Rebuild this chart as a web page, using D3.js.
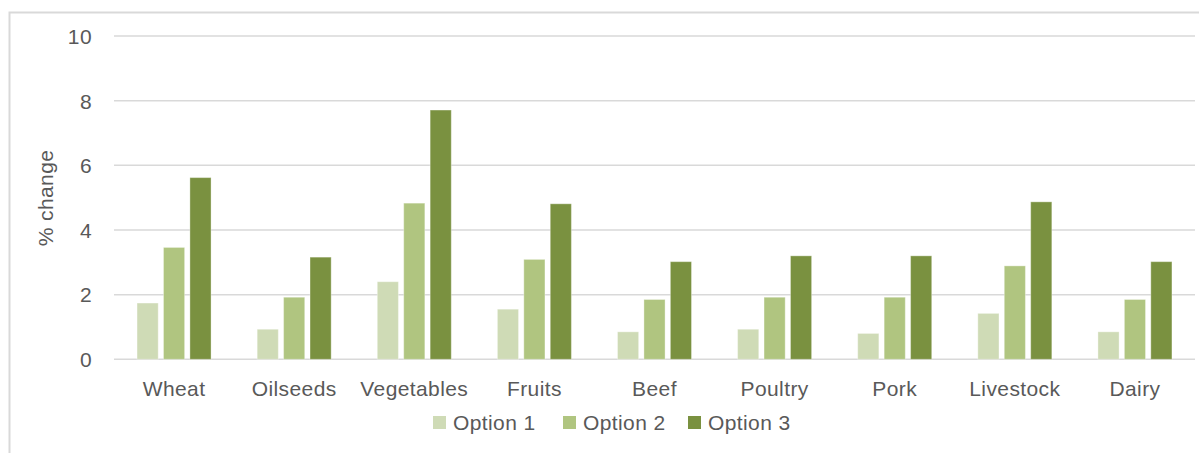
<!DOCTYPE html>
<html>
<head>
<meta charset="utf-8">
<script src="https://cdn.jsdelivr.net/npm/d3@7"></script>
<style>
  html, body { margin: 0; padding: 0; background: #fff; }
  svg { display: block; }
  text { font-family: "Liberation Sans", Arial, sans-serif; fill: #595959; letter-spacing: 0.4px; }
</style>
</head>
<body>
<svg id="chart" width="1199" height="453"></svg>
<script>
const categories = ["Wheat", "Oilseeds", "Vegetables", "Fruits", "Beef", "Poultry", "Pork", "Livestock", "Dairy"];
const seriesNames = ["Option 1", "Option 2", "Option 3"];
const option1 = [1.74, 0.93, 2.40, 1.55, 0.85, 0.93, 0.80, 1.42, 0.85];
const option2 = [3.46, 1.92, 4.83, 3.09, 1.85, 1.92, 1.92, 2.89, 1.85];
const option3 = [5.62, 3.16, 7.71, 4.81, 3.02, 3.20, 3.20, 4.87, 3.02];
const yTicks = [0, 2, 4, 6, 8, 10];
const colors = ["#cfdbb6", "#b0c580", "#7a9140"];

const seriesValues = [option1, option2, option3];
const svg = d3.select("#chart");
const FS = 21;

// chart border
svg.append("rect")
  .attr("x", 9.5).attr("y", 12.5)
  .attr("width", 1199).attr("height", 460)
  .attr("fill", "none").attr("stroke", "#d9d9d9").attr("stroke-width", 2);

const x0 = d3.scaleBand().domain(categories).range([114, 1195]);
const groupW = 74;
const x1 = d3.scaleBand().domain(seriesNames).range([0, groupW]).paddingInner(0.2);
const y = d3.scaleLinear().domain([0, 10]).range([359.3, 36]);

// gridlines
svg.append("g").selectAll("line").data(yTicks).join("line")
  .attr("x1", 114).attr("x2", 1195)
  .attr("y1", d => y(d)).attr("y2", d => y(d))
  .attr("stroke", "#d9d9d9").attr("stroke-width", 1.5);

// y axis labels
const yAxis = d3.axisLeft(y).tickValues(yTicks).tickSize(0).tickPadding(0);
const gy = svg.append("g").attr("transform", "translate(92,0)").call(yAxis);
gy.select(".domain").remove();
gy.selectAll("text").attr("font-size", FS).attr("fill", "#595959")
  .style("font-family", "'Liberation Sans', Arial, sans-serif").attr("dy", "0.35em");

// y axis title
svg.append("text")
  .attr("transform", "translate(53,198) rotate(-90)")
  .attr("text-anchor", "middle")
  .attr("font-size", FS)
  .text("% change");

// bars
const groups = svg.append("g").selectAll("g").data(categories).join("g")
  .attr("transform", d => `translate(${x0(d) + (x0.bandwidth() - groupW) / 2},0)`);
groups.selectAll("rect")
  .data((c, i) => seriesNames.map((s, j) => ({ s, j, v: seriesValues[j][i] })))
  .join("rect")
  .attr("x", d => x1(d.s))
  .attr("width", x1.bandwidth())
  .attr("y", d => y(d.v))
  .attr("height", d => y(0) - y(d.v))
  .attr("fill", d => colors[d.j])
  .attr("stroke", "#ffffff").attr("stroke-opacity", 0.35).attr("stroke-width", 1);

// x axis labels
const xAxis = d3.axisBottom(x0).tickSize(0).tickPadding(0);
const gx = svg.append("g").attr("transform", "translate(0,381)").call(xAxis);
gx.select(".domain").remove();
gx.selectAll("text").attr("font-size", FS).attr("fill", "#595959")
  .style("font-family", "'Liberation Sans', Arial, sans-serif").attr("dy", "0.71em");

// legend
const legendX = [433, 563, 688];
const leg = svg.append("g").selectAll("g").data(seriesNames).join("g")
  .attr("transform", (d, i) => `translate(${legendX[i]},0)`);
leg.append("rect").attr("x", 0).attr("y", 416).attr("width", 13).attr("height", 13)
  .attr("fill", (d, i) => colors[i]);
leg.append("text").attr("x", 20).attr("y", 423).attr("dy", "0.35em")
  .attr("font-size", FS).text(d => d);
</script>
</body>
</html>
